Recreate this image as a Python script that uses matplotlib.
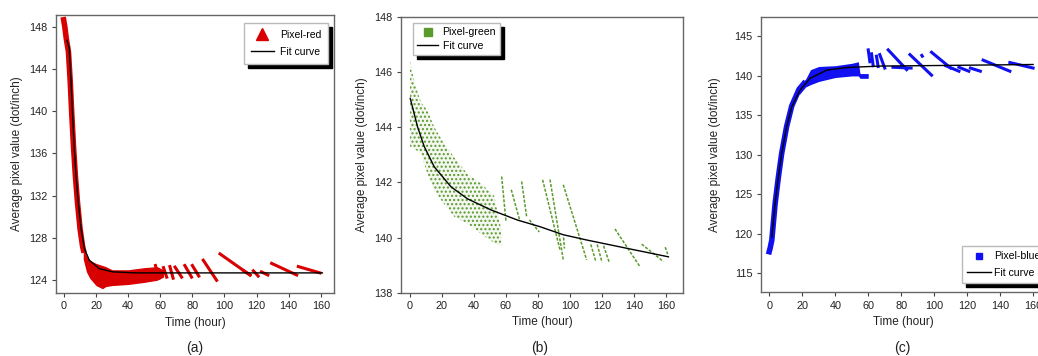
import matplotlib.pyplot as plt

plt.rcParams['font.family'] = ['Liberation Sans', 'DejaVu Sans']

# ---------------- panel (a): red channel ----------------
red_fit_x = [1.9, 3.3, 4.4, 5.4, 6.4, 7.5, 8.9, 10.6, 12.7, 15.8, 22.0, 30.3, 44.9, 80, 120, 161]
red_fit_y = [146.7, 145.95, 142.8, 139.6, 136.5, 133.9, 131.4, 128.9, 127.0, 125.9, 125.1, 124.8,
             124.7, 124.7, 124.7, 124.7]

# measured trace along the steep start
red_trace_x = [-0.5, 0.5, 1.5, 2.8, 3.9, 4.9, 6.0, 7.1, 8.4, 10.0, 11.5, 12.5]
red_trace_y = [148.9, 148.0, 146.8, 145.6, 142.8, 139.6, 136.5, 133.9, 131.4, 128.9, 127.3, 126.6]

# noisy band after the drop
red_band_x = [12, 14, 16, 20, 24, 26, 30, 40, 50, 58, 62]
red_band_hi = [127.5, 126.3, 125.9, 125.6, 125.4, 125.3, 125.0, 125.0, 125.2, 125.3, 125.0]
red_band_lo = [126.0, 124.8, 124.2, 123.5, 123.2, 123.4, 123.5, 123.6, 123.8, 124.0, 124.3]

# sawtooth pieces (start / end)
red_seg_x0 = [57, 62, 66, 69.2, 75.3, 80, 86.8, 97.2, 112, 118, 123, 129.4, 146]
red_seg_y0 = [125.4, 125.2, 125.3, 125.25, 125.4, 125.4, 125.9, 126.5, 124.9, 124.9, 124.8, 125.6, 125.3]
red_seg_x1 = [59, 64, 68, 73.3, 79.5, 84, 95.1, 115.9, 116, 121, 127, 145, 159.5]
red_seg_y1 = [124.2, 124.3, 124.2, 124.3, 124.3, 124.4, 124.0, 124.5, 124.5, 124.4, 124.5, 124.5, 124.7]

# ---------------- panel (b): green channel ----------------
green_fit_x = [0.2, 4.8, 8.9, 15.2, 25.6, 36, 50.6, 67.3, 80.8, 95.8, 110.4, 135.4, 161.5]
green_fit_y = [145.04, 144.0, 143.3, 142.56, 141.84, 141.4, 141.0, 140.63, 140.4, 140.1, 139.91,
               139.61, 139.3]

green_cloud_x = [0, 3, 6.9, 11, 15.2, 21.5, 27.7, 36, 44.4, 52.7, 57]
green_cloud_hi = [146.4, 145.6, 144.9, 144.6, 144.0, 143.4, 142.9, 142.3, 141.96, 141.5, 140.3]
green_cloud_lo = [143.3, 143.2, 143.05, 142.3, 141.7, 141.2, 140.75, 140.5, 140.14, 139.8, 139.7]

green_seg_x0 = [57.3, 63.3, 69.8, 74.6, 82.9, 87.5, 95.8, 96, 113, 117, 121, 128.1, 144.8, 159.5]
green_seg_y0 = [142.21, 141.73, 142.03, 140.64, 142.09, 142.1, 141.91, 140.0, 139.75, 139.75, 139.7,
                140.31, 139.76, 139.65]
green_seg_x1 = [60.0, 68.5, 72.9, 80.8, 93.75, 95.8, 110.4, 96.5, 116, 120, 124.5, 143.75, 158.3, 161]
green_seg_y1 = [140.58, 140.64, 140.76, 140.2, 139.55, 139.19, 139.19, 139.6, 139.15, 139.1, 139.1,
                138.94, 139.13, 139.4]

# ---------------- panel (c): blue channel ----------------
blue_fit_x = [1.5, 3.45, 5.45, 7.5, 10.5, 13.6, 18.6, 24.7, 34.8, 46.9, 67.1, 101.5, 160]
blue_fit_y = [119.6, 123.8, 127.2, 130.2, 133.55, 136.1, 138.2, 139.7, 140.74, 141.07, 141.25,
              141.32, 141.45]

blue_trace_x = [-0.5, 0.5, 1.5, 2.5, 3.5, 5.5, 7.5, 10.5, 13.6, 18.0, 22.0]
blue_trace_y = [117.4, 118.2, 119.2, 121.5, 123.8, 127.2, 130.2, 133.6, 136.2, 138.3, 139.3]

blue_band_x = [18, 22, 25, 30, 40, 50, 54, 55, 60]
blue_band_hi = [138.8, 139.6, 140.8, 141.2, 141.3, 141.6, 141.8, 140.3, 140.3]
blue_band_lo = [137.6, 138.6, 138.9, 139.3, 139.8, 140.0, 140.0, 139.7, 139.7]

blue_seg_x0 = [60, 62, 65, 67, 72.1, 75, 85.3, 92.5, 98.4, 107, 115, 122, 129.7, 145.9]
blue_seg_y0 = [143.3, 142.8, 142.5, 142.7, 143.3, 141.1, 142.7, 142.6, 143.0, 141.3, 141.1, 141.0,
               142.0, 141.7]
blue_seg_x1 = [61, 63, 66, 70, 83.3, 86, 98.4, 92.8, 110, 115, 121, 128, 145.9, 160]
blue_seg_y1 = [141.8, 141.3, 141.2, 141.0, 140.8, 141.0, 140.1, 142.5, 141.0, 140.6, 140.6, 140.6,
               140.6, 141.0]

red = '#d80000'
green = '#5a9a2c'
blue = '#1010f0'
text_color = '#222222'

fig = plt.figure(figsize=(10.38, 3.56), dpi=100)
fig.patch.set_facecolor('white')

ax_a = fig.add_axes([0.0539, 0.177, 0.2678, 0.781])
ax_b = fig.add_axes([0.3863, 0.1778, 0.2717, 0.7753])
ax_c = fig.add_axes([0.7329, 0.179, 0.2746, 0.774])


def style_axis(ax, xlim, ylim, yticks, ylab_x):
    ax.set_xlim(*xlim)
    ax.set_ylim(*ylim)
    ax.set_xticks(range(0, 161, 20))
    ax.set_yticks(yticks)
    ax.tick_params(direction='out', length=3, width=0.8, color='#444444', labelsize=7.8,
                   pad=3, labelcolor=text_color)
    for spine in ax.spines.values():
        spine.set_color('#666666')
        spine.set_linewidth(1.0)
    ax.set_xlabel('Time (hour)', fontsize=8.5, color=text_color)
    ax.set_ylabel('Average pixel value (dot/inch)', fontsize=8.5, color=text_color)
    ax.xaxis.set_label_coords(0.5, -0.085)
    ax.yaxis.set_label_coords(ylab_x, 0.5)


shadow = {'ox': 3, 'oy': -3, 'facecolor': 'black', 'edgecolor': 'black', 'alpha': 1}

# (a)
ax_a.plot(red_trace_x, red_trace_y, color=red, lw=4, solid_capstyle='butt')
ax_a.fill_between(red_band_x, red_band_lo, red_band_hi, color=red, lw=0)
for i in range(len(red_seg_x0)):
    ax_a.plot([red_seg_x0[i], red_seg_x1[i]], [red_seg_y0[i], red_seg_y1[i]], color=red, lw=2.2)
ax_a.plot(red_fit_x, red_fit_y, color='black', lw=1)
ax_a.plot([], [], '^', color=red, markersize=8, label='Pixel-red')
ax_a.plot([], [], color='black', lw=1, label='Fit curve')
style_axis(ax_a, (-5, 168.2), (122.8, 149.1), range(124, 149, 4), -0.119)
ax_a.legend(loc='upper left', bbox_to_anchor=(244 / 1038, 1 - 23 / 356),
            bbox_transform=fig.transFigure, fontsize=7.5, fancybox=False, framealpha=1,
            edgecolor='#bbbbbb', shadow=shadow, borderaxespad=0, handlelength=2.2,
            handletextpad=0.6, labelspacing=0.7, borderpad=0.65)

# (b)
ax_b.fill_between(green_cloud_x, green_cloud_lo, green_cloud_hi, facecolor=(0.35, 0.6, 0.17, 0.07),
                  edgecolor=green, hatch='....', lw=0)
for i in range(len(green_seg_x0)):
    ax_b.plot([green_seg_x0[i], green_seg_x1[i]], [green_seg_y0[i], green_seg_y1[i]], color=green,
              lw=1.1, ls=(0, (2, 1)))
ax_b.plot(green_fit_x, green_fit_y, color='black', lw=1)
ax_b.plot([], [], 's', color=green, markersize=6, label='Pixel-green')
ax_b.plot([], [], color='black', lw=1, label='Fit curve')
style_axis(ax_b, (-5.6, 170.6), (138, 148), range(138, 149, 2), -0.117)
ax_b.legend(loc='upper left', bbox_to_anchor=(413 / 1038, 1 - 23 / 356),
            bbox_transform=fig.transFigure, fontsize=7.6, fancybox=False, framealpha=1,
            edgecolor='#bbbbbb', shadow=shadow, borderaxespad=0, handlelength=2.0,
            handletextpad=0.4, labelspacing=0.35, borderpad=0.4)

# (c)
ax_c.plot(blue_trace_x, blue_trace_y, color=blue, lw=4, solid_capstyle='butt')
ax_c.fill_between(blue_band_x, blue_band_lo, blue_band_hi, color=blue, lw=0)
for i in range(len(blue_seg_x0)):
    ax_c.plot([blue_seg_x0[i], blue_seg_x1[i]], [blue_seg_y0[i], blue_seg_y1[i]], color=blue, lw=2.2)
ax_c.plot(blue_fit_x, blue_fit_y, color='black', lw=1)
ax_c.plot([], [], 's', color=blue, markersize=5, label='Pixel-blue')
ax_c.plot([], [], color='black', lw=1, label='Fit curve')
style_axis(ax_c, (-5.2, 167.7), (112.6, 147.5), range(115, 146, 5), -0.139)
ax_c.legend(loc='upper left', bbox_to_anchor=(962 / 1038, 1 - 246 / 356),
            bbox_transform=fig.transFigure, fontsize=7.6, fancybox=False, framealpha=1,
            edgecolor='#bbbbbb', shadow=shadow, borderaxespad=0, handlelength=2.2,
            handletextpad=0.3, labelspacing=0.6, borderpad=0.5)

# panel letters
for label, xc in [('(a)', 195), ('(b)', 540), ('(c)', 902)]:
    fig.text(xc / 1038, 1 - 348 / 356, label, ha='center', va='center', fontsize=10,
             color=text_color)

fig.savefig('out.png', dpi=100)
